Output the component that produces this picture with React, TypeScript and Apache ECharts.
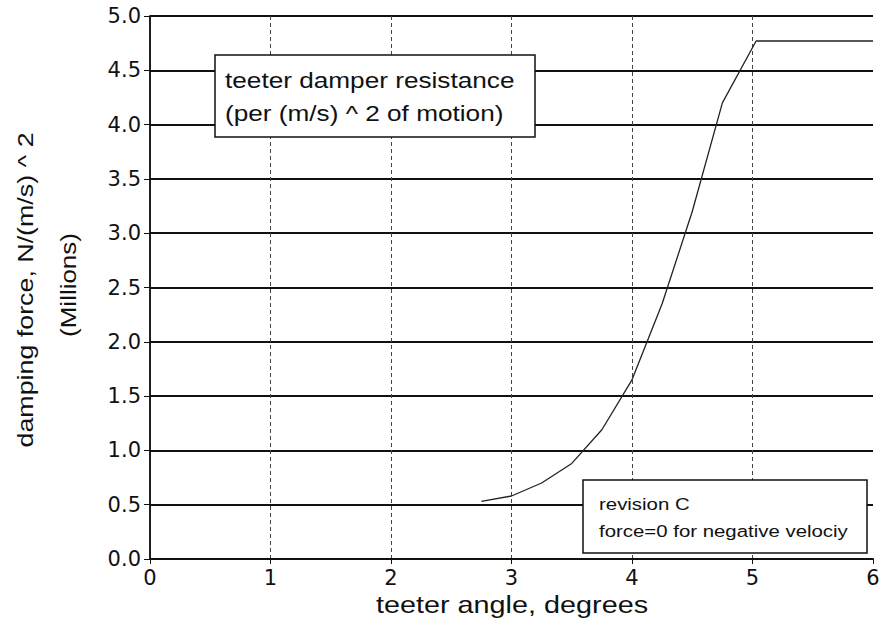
import React, { useEffect, useRef } from "react";
import * as echarts from "echarts";

// teeter angle (degrees) and damping force (millions N/(m/s)^2)
const angles = [2.75, 3.0, 3.25, 3.5, 3.75, 4.0, 4.25, 4.5, 4.75, 5.03, 6.0];
const forces = [0.53, 0.58, 0.7, 0.88, 1.19, 1.65, 2.35, 3.2, 4.2, 4.77, 4.77];

const xTitle = "teeter angle, degrees";
const yTitle = "damping force, N/(m/s) ^ 2";
const yTitle2 = "(Millions)";
const note1 = ["teeter damper resistance", "(per (m/s) ^ 2 of motion)"];
const note2 = ["revision C", "force=0 for negative velociy"];

const FONT = "'Liberation Sans', Arial, Helvetica, sans-serif";

export default function App() {
  const ref = useRef<HTMLDivElement>(null);
  useEffect(() => {
    const chart = echarts.init(ref.current!, null, { renderer: "svg" });
    const txt = (
      text: string,
      x: number,
      y: number,
      size: number,
      align: string,
      scaleX: number,
      rotation = 0
    ) => ({
      type: "text",
      x,
      y,
      scaleX,
      rotation,
      z: 100,
      style: {
        text,
        fill: "#111",
        fontSize: size,
        fontFamily: FONT,
        align,
        textAlign: align,
        verticalAlign: "middle",
        textVerticalAlign: "middle",
      },
    });
    chart.setOption({
      animation: false,
      backgroundColor: "#fff",
      grid: {
        left: 150,
        top: 16,
        width: 723,
        height: 543,
        containLabel: false,
        outerBoundsMode: "none",
      },
      xAxis: {
        type: "value",
        min: 0,
        max: 6,
        interval: 1,
        axisLine: { show: true, onZero: false, lineStyle: { color: "#111", width: 2 } },
        axisTick: { show: true, inside: false, length: 5, lineStyle: { color: "#111" } },
        axisLabel: {
          color: "#111",
          fontSize: 21,
          fontFamily: "'DejaVu Sans', sans-serif",
          margin: 8,
        },
        splitLine: {
          show: true,
          showMinLine: false,
          showMaxLine: false,
          lineStyle: { color: "#444", width: 1, type: [4, 3] },
        },
      },
      yAxis: [
        {
          type: "value",
          min: 0,
          max: 5,
          interval: 0.5,
          axisLine: { show: true, onZero: false, lineStyle: { color: "#111", width: 1.5 } },
          axisTick: { show: true, inside: false, length: 6, lineStyle: { color: "#111" } },
          axisLabel: {
            color: "#111",
            fontSize: 21,
            fontFamily: "'DejaVu Sans', sans-serif",
            margin: 9,
            formatter: (v: number) => v.toFixed(1),
          },
          splitLine: { show: true, lineStyle: { color: "#111", width: 2 } },
        },
        {
          type: "value",
          position: "right",
          min: 0,
          max: 5,
          interval: 0.5,
          axisLine: { show: true, lineStyle: { color: "#111", width: 1.5 } },
          axisTick: { show: false },
          axisLabel: { show: false },
          splitLine: { show: false },
        },
      ],
      series: [
        {
          type: "line",
          data: angles.map((a, i) => [a, forces[i]]),
          showSymbol: false,
          symbol: "none",
          lineStyle: { color: "#222", width: 1.3 },
          z: 5,
        },
      ],
      graphic: [
        {
          type: "rect",
          z: 90,
          shape: { x: 215, y: 55, width: 320, height: 82 },
          style: { fill: "#fff", stroke: "#111", lineWidth: 1.5 },
        },
        txt(note1[0], 225, 80, 22, "left", 1.19),
        txt(note1[1], 225, 113, 22, "left", 1.19),
        {
          type: "rect",
          z: 90,
          shape: { x: 583, y: 480, width: 284, height: 73 },
          style: { fill: "#fff", stroke: "#111", lineWidth: 1.5 },
        },
        txt(note2[0], 599, 504, 17, "left", 1.2),
        txt(note2[1], 599, 531, 17, "left", 1.2),
        txt(xTitle, 512, 605, 24, "center", 1.2),
        txt(yTitle, 25, 290, 22, "center", 1.22, Math.PI / 2),
        txt(yTitle2, 68, 285, 22, "center", 1.18, Math.PI / 2),
      ],
    });
    return () => chart.dispose();
  }, []);
  return (
    <div
      ref={ref}
      style={{ position: "absolute", left: 0, top: 0, width: 881, height: 629, background: "#fff" }}
    />
  );
}
